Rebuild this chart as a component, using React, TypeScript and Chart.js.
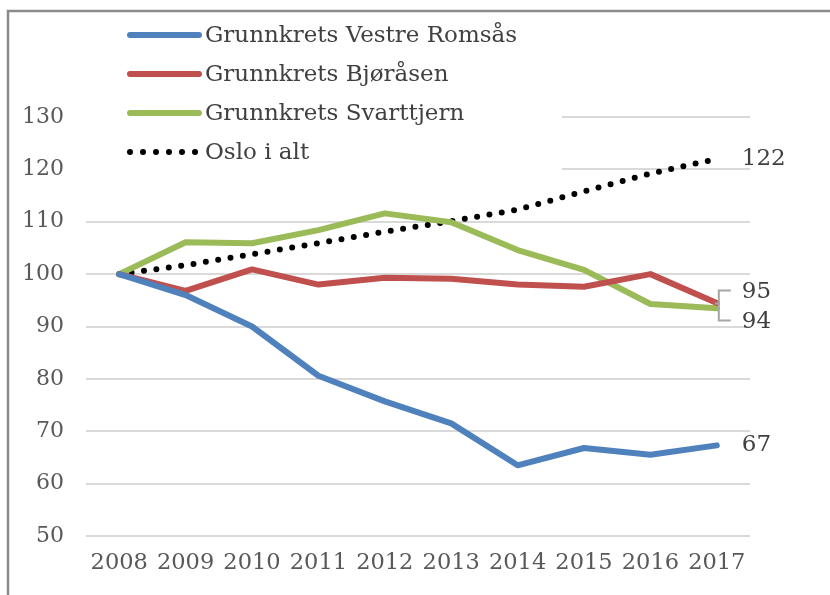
import React, { useEffect, useRef } from "react";
import { Chart, registerables } from "chart.js";

Chart.register(...registerables);

const years = ["2008", "2009", "2010", "2011", "2012", "2013", "2014", "2015", "2016", "2017"];
const vestreRomsas = [100, 96.0, 90.0, 80.6, 75.7, 71.5, 63.5, 66.8, 65.5, 67.3];
const bjorasen = [100, 96.8, 100.9, 98.0, 99.3, 99.1, 98.0, 97.6, 100.0, 94.5];
const svarttjern = [100, 106.1, 105.9, 108.4, 111.6, 109.9, 104.6, 100.8, 94.3, 93.5];
const osloIAlt = [100, 101.7, 103.8, 105.9, 108.1, 110.1, 112.3, 115.8, 119.2, 122.0];

const seriesNames = [
  "Grunnkrets Vestre Romsås",
  "Grunnkrets Bjøråsen",
  "Grunnkrets Svarttjern",
  "Oslo i alt",
];
const endLabels = ["67", "95", "94", "122"];
const yMin = 50;
const yMax = 130;
const yStep = 10;

const BLUE = "#4f81bd";
const RED = "#c0504d";
const GREEN = "#9bbb59";
const BLACK = "#000000";
const FONT = "'DejaVu Serif', serif";

const decorPlugin = {
  id: "decor",
  beforeDatasetsDraw(chart: any) {
    const ctx = chart.ctx;
    const area = chart.chartArea;
    ctx.save();
    ctx.fillStyle = "#ffffff";
    ctx.fillRect(area.left - 2, 14, 564 - area.left, 178);
    const colors = [BLUE, RED, GREEN, BLACK];
    const rowY = [35, 74, 113, 152];
    ctx.font = `23px ${FONT}`;
    ctx.textBaseline = "middle";
    ctx.textAlign = "left";
    for (let i = 0; i < seriesNames.length; i++) {
      const y = rowY[i];
      ctx.beginPath();
      ctx.strokeStyle = colors[i];
      ctx.lineCap = "round";
      if (i === 3) {
        ctx.lineWidth = 6;
        ctx.setLineDash([0, 13]);
        ctx.moveTo(130, y);
        ctx.lineTo(200, y);
      } else {
        ctx.lineWidth = 6;
        ctx.setLineDash([]);
        ctx.moveTo(130, y);
        ctx.lineTo(199, y);
      }
      ctx.stroke();
      ctx.setLineDash([]);
      ctx.fillStyle = "#404040";
      ctx.fillText(seriesNames[i], 205, y + 1);
    }
    ctx.restore();
  },
  afterDatasetsDraw(chart: any) {
    const ctx = chart.ctx;
    const xs = chart.scales.x;
    const ys = chart.scales.y;
    const last = years.length - 1;
    const px = xs.getPixelForValue(last);
    const lx = px + 25;
    ctx.save();
    ctx.font = `23px ${FONT}`;
    ctx.fillStyle = "#404040";
    ctx.textBaseline = "middle";
    ctx.textAlign = "left";
    ctx.fillText(endLabels[3], lx, ys.getPixelForValue(osloIAlt[last]));
    ctx.fillText(endLabels[0], lx, ys.getPixelForValue(vestreRomsas[last]));
    const yr = ys.getPixelForValue(bjorasen[last]);
    const yg = ys.getPixelForValue(svarttjern[last]);
    const mid = (yr + yg) / 2;
    const top = mid - 15;
    const bot = mid + 15;
    ctx.fillText(endLabels[1], lx, top + 1);
    ctx.fillText(endLabels[2], lx, bot + 1);
    ctx.strokeStyle = "#a6a6a6";
    ctx.lineWidth = 2;
    ctx.beginPath();
    const bx = px + 2;
    ctx.moveTo(bx + 12, top);
    ctx.lineTo(bx, top);
    ctx.lineTo(bx, bot);
    ctx.lineTo(bx + 12, bot);
    ctx.moveTo(bx, mid - 2);
    ctx.lineTo(bx - 4, mid - 2);
    ctx.stroke();
    ctx.restore();
  },
  afterDraw(chart: any) {
    const ctx = chart.ctx;
    ctx.save();
    ctx.strokeStyle = "#8a8a8a";
    ctx.lineWidth = 2.5;
    ctx.beginPath();
    ctx.moveTo(8, 640);
    ctx.lineTo(8, 11);
    ctx.lineTo(900, 11);
    ctx.stroke();
    ctx.restore();
  },
};

export default function App() {
  const ref = useRef<HTMLCanvasElement | null>(null);

  useEffect(() => {
    if (!ref.current) return;
    const lineCommon = {
      pointRadius: 0,
      pointHoverRadius: 0,
      borderWidth: 6,
      borderJoinStyle: "round" as const,
      borderCapStyle: "round" as const,
      tension: 0,
      fill: false,
    };
    const chart = new Chart(ref.current, {
      type: "line",
      data: {
        labels: years,
        datasets: [
          { ...lineCommon, label: seriesNames[0], data: vestreRomsas, borderColor: BLUE, backgroundColor: BLUE },
          { ...lineCommon, label: seriesNames[1], data: bjorasen, borderColor: RED, backgroundColor: RED },
          { ...lineCommon, label: seriesNames[2], data: svarttjern, borderColor: GREEN, backgroundColor: GREEN },
          {
            ...lineCommon,
            label: seriesNames[3],
            data: osloIAlt,
            borderColor: BLACK,
            backgroundColor: BLACK,
            borderWidth: 6,
            borderDash: [0, 12.5],
          },
        ],
      },
      options: {
        responsive: false,
        animation: false,
        events: [],
        layout: { padding: { left: 0, right: 80, top: 117, bottom: 0 } },
        plugins: {
          legend: { display: false },
          tooltip: { enabled: false },
          title: { display: false },
        },
        scales: {
          x: {
            offset: true,
            grid: { display: false, drawTicks: false },
            border: { display: false },
            ticks: {
              color: "#595959",
              font: { family: FONT, size: 22.5 },
              padding: 14,
              maxRotation: 0,
              autoSkip: false,
            },
            afterFit: (s: any) => {
              s.height = 59;
            },
          },
          y: {
            min: yMin,
            max: yMax,
            grid: { color: "#d9d9d9", lineWidth: 2, drawTicks: false },
            border: { display: false },
            ticks: {
              stepSize: yStep,
              color: "#595959",
              font: { family: FONT, size: 22 },
              padding: 22,
            },
            afterFit: (s: any) => {
              s.width = 86;
            },
          },
        },
      },
      plugins: [decorPlugin],
    });
    return () => chart.destroy();
  }, []);

  return (
    <div style={{ position: "absolute", left: 0, top: 0, width: 830, height: 595, background: "#fff" }}>
      <canvas ref={ref} width={830} height={595} style={{ width: 830, height: 595, display: "block" }} />
    </div>
  );
}
